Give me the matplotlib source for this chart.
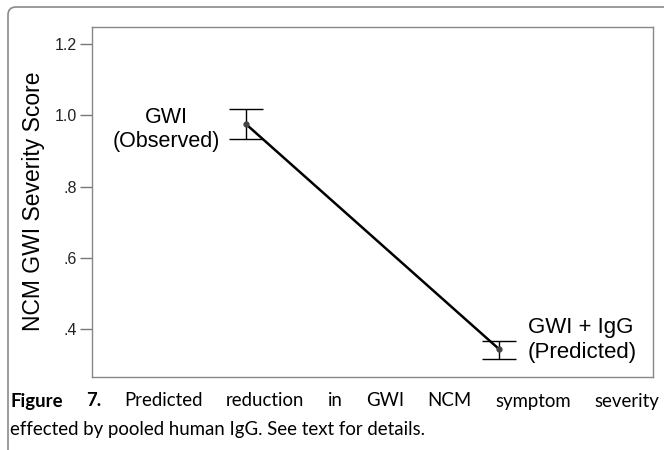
import matplotlib
matplotlib.use("Agg")
import matplotlib.pyplot as plt
from matplotlib.patches import FancyBboxPatch

groups = ["GWI\n(Observed)", "GWI + IgG\n(Predicted)"]
means = [0.975, 0.344]
upper = [1.018, 0.367]
lower = [0.933, 0.317]
yticks = [0.4, 0.6, 0.8, 1.0, 1.2]
yticklabels = [".4", ".6", ".8", "1.0", "1.2"]
ylabel = "NCM GWI Severity Score"
caption_bold = "Figure 7."
caption_line1 = "Predicted reduction in GWI NCM symptom severity"
caption_line2 = "effected by pooled human IgG. See text for details."

plt.rcParams["font.family"] = ["Liberation Sans", "DejaVu Sans"]
fig = plt.figure(figsize=(6.64, 4.5), dpi=100)
W, H = 664, 450

# outer rounded frame (pixel coordinates, top-left corner visible only)
frame = FancyBboxPatch((8, -200), 1200, (H - 7) + 200, boxstyle="round,pad=0,rounding_size=8",
                       transform=None, fill=False, edgecolor="#8a8a8a", linewidth=1.2)
fig.patches.append(frame)

ax = fig.add_axes([92 / W, 1 - 376.7 / H, (653 - 92) / W, (376.7 - 26.7) / H])
x = list(range(len(means)))
yerr = [[m - l for m, l in zip(means, lower)], [u - m for m, u in zip(means, upper)]]
ax.plot(x, means, color="black", linewidth=1.8, zorder=2)
ax.errorbar(x, means, yerr=yerr, fmt="none", ecolor="black", elinewidth=1.0,
            capsize=12.5, capthick=1.0, zorder=3)
ax.plot(x, means, "o", color="#444444", markersize=3.5, zorder=4)

ax.set_xlim(-0.61, 1.61)
ax.set_ylim(0.266, 1.249)
ax.set_yticks(yticks)
ax.set_yticklabels(yticklabels, fontsize=11.5)
ax.set_xticks([])
ax.tick_params(axis="y", direction="out", length=9, width=1, color="#777777", labelcolor="#222222", pad=2)
for s in ax.spines.values():
    s.set_color("#888888")
    s.set_linewidth(1.0)
ax.set_ylabel(ylabel, fontsize=16.5, labelpad=7)

# group labels
ax.text(-0.316, 0.96, groups[0], ha="center", va="center", fontsize=15.5, linespacing=1.2)
ax.text(1.115, 0.369, groups[1], ha="left", va="center", fontsize=16, linespacing=1.2)

# caption (justified first line)
cap_font = ["Lato", "DejaVu Sans"]
fs = 13.4
fig.canvas.draw()
r = fig.canvas.get_renderer()
words = [(w, "bold") for w in caption_bold.split()] + [(w, "normal") for w in caption_line1.split()]
txts = []
for w, wt in words:
    t = fig.text(0, 1 - 401 / H, w, fontsize=fs, fontweight=wt, family=cap_font, va="center", ha="left")
    txts.append(t)
widths = [t.get_window_extent(r).width for t in txts]
x0, x1 = 10, 659
gap = (x1 - x0 - sum(widths)) / (len(widths) - 1)
pos = x0
for t, wd in zip(txts, widths):
    t.set_x(pos / W)
    pos += wd + gap
fig.text(10 / W, 1 - 429 / H, caption_line2, fontsize=fs, family=cap_font, va="center", ha="left")

fig.savefig("out.png", dpi=100)
